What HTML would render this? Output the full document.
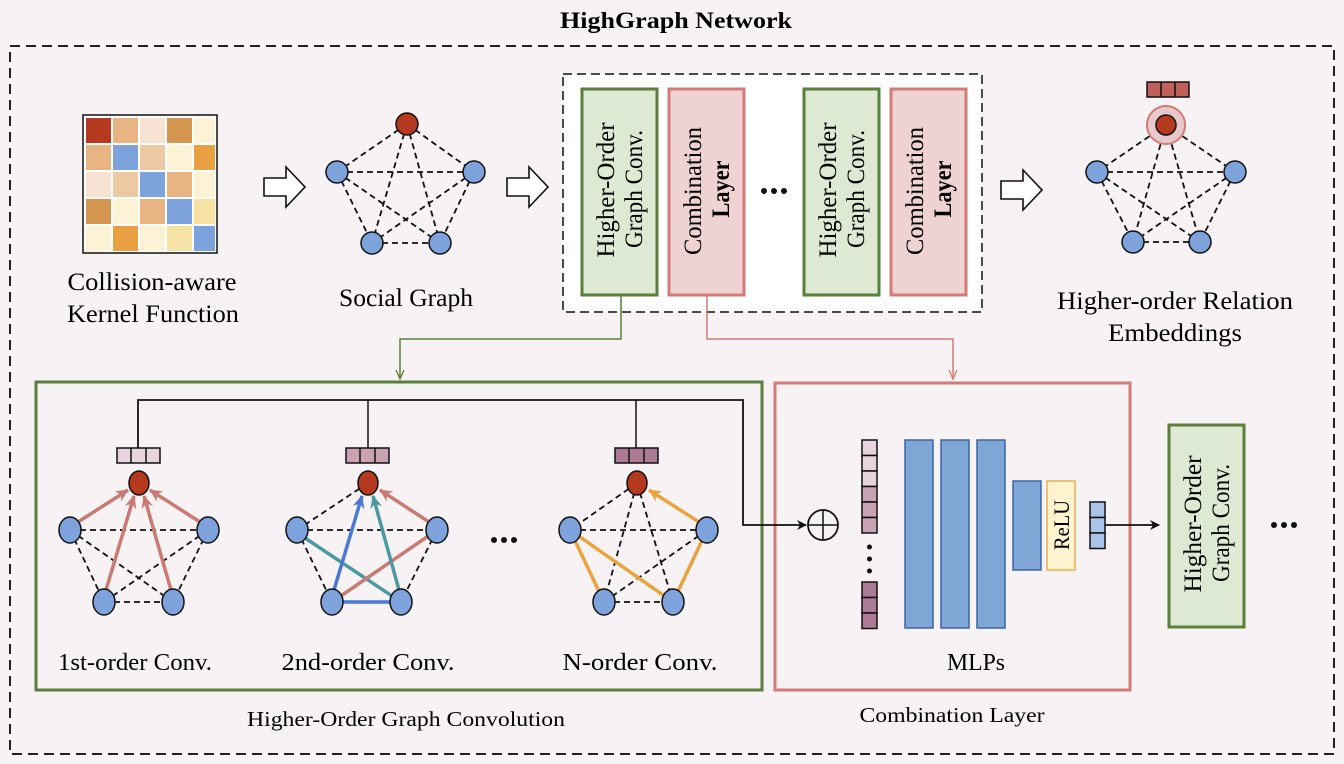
<!DOCTYPE html>
<html><head><meta charset="utf-8"><style>
html,body{margin:0;padding:0;background:#f7f2f4;}
svg{display:block;font-family:"Liberation Serif",serif;}
</style></head><body>
<svg width="1344" height="764" viewBox="0 0 1344 764" xmlns="http://www.w3.org/2000/svg">
<defs>
<marker id="ab" markerWidth="10" markerHeight="10" refX="9" refY="5" orient="auto" markerUnits="userSpaceOnUse"><path d="M0,0 L10,5 L0,10 L3,5 z" fill="#111"/></marker>
<marker id="ag" markerWidth="10" markerHeight="10" refX="9" refY="5" orient="auto" markerUnits="userSpaceOnUse"><path d="M0,1 L9,5 L0,9" fill="none" stroke="#5a7f3a" stroke-width="1.3"/></marker>
<marker id="ar" markerWidth="10" markerHeight="10" refX="9" refY="5" orient="auto" markerUnits="userSpaceOnUse"><path d="M0,1 L9,5 L0,9" fill="none" stroke="#d47b78" stroke-width="1.3"/></marker>
<marker id="mr" markerWidth="14" markerHeight="14" refX="12" refY="7" orient="auto" markerUnits="userSpaceOnUse"><path d="M0,1 L13,7 L0,13 L4,7 z" fill="#c97a72"/></marker>
<marker id="mb" markerWidth="14" markerHeight="14" refX="12" refY="7" orient="auto" markerUnits="userSpaceOnUse"><path d="M0,1 L13,7 L0,13 L4,7 z" fill="#4a78d8"/></marker>
<marker id="mt" markerWidth="14" markerHeight="14" refX="12" refY="7" orient="auto" markerUnits="userSpaceOnUse"><path d="M0,1 L13,7 L0,13 L4,7 z" fill="#4a9aa0"/></marker>
<marker id="mo" markerWidth="14" markerHeight="14" refX="12" refY="7" orient="auto" markerUnits="userSpaceOnUse"><path d="M0,1 L13,7 L0,13 L4,7 z" fill="#eba43d"/></marker>
</defs>
<rect width="1344" height="764" fill="#f7f2f4"/>
<text x="676" y="28" text-anchor="middle" font-size="23" font-weight="bold" textLength="232" lengthAdjust="spacingAndGlyphs">HighGraph Network</text>
<rect x="10" y="46" width="1324" height="708" fill="none" stroke="#222" stroke-width="2" stroke-dasharray="10,6"/>

<!-- kernel matrix -->
<rect x="83" y="115" width="134" height="138" fill="#fff" stroke="#111" stroke-width="1.5"/>
<g>
<rect x="86" y="118" width="25" height="25" fill="#b5391f"/><rect x="113" y="118" width="25" height="25" fill="#e8b482"/><rect x="140" y="118" width="25" height="25" fill="#f6e3d2"/><rect x="167" y="118" width="25" height="25" fill="#d49550"/><rect x="194" y="118" width="21" height="25" fill="#fcf2d6"/>
<rect x="86" y="145" width="25" height="25" fill="#e8b482"/><rect x="113" y="145" width="25" height="25" fill="#7ea3dc"/><rect x="140" y="145" width="25" height="25" fill="#ecc9a2"/><rect x="167" y="145" width="25" height="25" fill="#fcf2d6"/><rect x="194" y="145" width="21" height="25" fill="#e9a043"/>
<rect x="86" y="172" width="25" height="25" fill="#f6e3d2"/><rect x="113" y="172" width="25" height="25" fill="#ecc9a2"/><rect x="140" y="172" width="25" height="25" fill="#7ea3dc"/><rect x="167" y="172" width="25" height="25" fill="#e8b482"/><rect x="194" y="172" width="21" height="25" fill="#fcf2d6"/>
<rect x="86" y="199" width="25" height="25" fill="#d49550"/><rect x="113" y="199" width="25" height="25" fill="#fcf2d6"/><rect x="140" y="199" width="25" height="25" fill="#e8b482"/><rect x="167" y="199" width="25" height="25" fill="#7ea3dc"/><rect x="194" y="199" width="21" height="25" fill="#f7e2a5"/>
<rect x="86" y="226" width="25" height="25" fill="#fcf2d6"/><rect x="113" y="226" width="25" height="25" fill="#e9a043"/><rect x="140" y="226" width="25" height="25" fill="#fcf2d6"/><rect x="167" y="226" width="25" height="25" fill="#f7e2a5"/><rect x="194" y="226" width="21" height="25" fill="#7ea3dc"/>
</g>
<text x="152" y="290" text-anchor="middle" font-size="25" textLength="169" lengthAdjust="spacingAndGlyphs">Collision-aware</text>
<text x="153" y="322" text-anchor="middle" font-size="25" textLength="172" lengthAdjust="spacingAndGlyphs">Kernel Function</text>

<!-- hollow arrows -->
<g fill="#fff" stroke="#111" stroke-width="1.6">
<path d="M264,178 h22 v-11 l19,20 l-19,20 v-11 h-22 z"/>
<path d="M507,178 h22 v-11 l19,20 l-19,20 v-11 h-22 z"/>
<path d="M1001,181 h22 v-11 l19,20 l-19,20 v-11 h-22 z"/>
</g>

<!-- social graph -->
<g stroke="#111" stroke-width="1.8" stroke-dasharray="6,4" fill="none">
<path d="M407,124 L337,172 M407,124 L474,172 M407,124 L372,243 M407,124 L440,243 M337,172 L474,172 M337,172 L372,243 M337,172 L440,243 M474,172 L372,243 M474,172 L440,243 M372,243 L440,243"/>
</g>
<g stroke="#111" stroke-width="1.5">
<circle cx="407" cy="124" r="11" fill="#b5391f"/>
<circle cx="337" cy="172" r="11" fill="#7ea3dc"/><circle cx="474" cy="172" r="11" fill="#7ea3dc"/>
<circle cx="372" cy="243" r="11" fill="#7ea3dc"/><circle cx="440" cy="243" r="11" fill="#7ea3dc"/>
</g>
<text x="406" y="306" text-anchor="middle" font-size="25" textLength="134" lengthAdjust="spacingAndGlyphs">Social Graph</text>

<!-- stacked layers box -->
<rect x="563" y="74" width="419" height="238" fill="#fff" stroke="#111" stroke-width="1.5" stroke-dasharray="9,5"/>
<rect x="582" y="89" width="75" height="206" fill="#dde9d3" stroke="#5a7f3a" stroke-width="3"/>
<rect x="669" y="89" width="75" height="206" fill="#efd3d3" stroke="#d47b78" stroke-width="3"/>
<rect x="804" y="89" width="75" height="206" fill="#dde9d3" stroke="#5a7f3a" stroke-width="3"/>
<rect x="891" y="89" width="75" height="206" fill="#efd3d3" stroke="#d47b78" stroke-width="3"/>
<g font-size="25" text-anchor="middle">
<text transform="translate(614,190) rotate(-90)" textLength="135" lengthAdjust="spacingAndGlyphs">Higher-Order</text>
<text transform="translate(642,189) rotate(-90)" textLength="118" lengthAdjust="spacingAndGlyphs">Graph Conv.</text>
<text transform="translate(701,191) rotate(-90)" textLength="128" lengthAdjust="spacingAndGlyphs">Combination</text>
<text transform="translate(729,189) rotate(-90)" font-weight="bold" textLength="57" lengthAdjust="spacingAndGlyphs">Layer</text>
<text transform="translate(836,190) rotate(-90)" textLength="135" lengthAdjust="spacingAndGlyphs">Higher-Order</text>
<text transform="translate(864,189) rotate(-90)" textLength="118" lengthAdjust="spacingAndGlyphs">Graph Conv.</text>
<text transform="translate(923,191) rotate(-90)" textLength="128" lengthAdjust="spacingAndGlyphs">Combination</text>
<text transform="translate(951,189) rotate(-90)" font-weight="bold" textLength="57" lengthAdjust="spacingAndGlyphs">Layer</text>
</g>
<g fill="#111"><circle cx="764" cy="191" r="3"/><circle cx="774" cy="191" r="3"/><circle cx="784" cy="191" r="3"/></g>

<!-- embedding graph -->
<rect x="1147" y="82" width="42" height="15" fill="#c0605a" stroke="#111" stroke-width="1.5"/>
<line x1="1161" y1="82" x2="1161" y2="97" stroke="#111" stroke-width="1.5"/><line x1="1175" y1="82" x2="1175" y2="97" stroke="#111" stroke-width="1.5"/>
<g stroke="#111" stroke-width="1.8" stroke-dasharray="6,4" fill="none">
<path d="M1166,125 L1097,172 M1166,125 L1235,172 M1166,125 L1133,242 M1166,125 L1200,242 M1097,172 L1235,172 M1097,172 L1133,242 M1097,172 L1200,242 M1235,172 L1133,242 M1235,172 L1200,242 M1133,242 L1200,242"/>
</g>
<circle cx="1166" cy="125" r="19" fill="#e7c9cc" stroke="#d47b78" stroke-width="2"/>
<g stroke="#111" stroke-width="1.5">
<circle cx="1166" cy="125" r="10" fill="#b5391f"/>
<circle cx="1097" cy="172" r="11" fill="#7ea3dc"/><circle cx="1235" cy="172" r="11" fill="#7ea3dc"/>
<circle cx="1133" cy="242" r="11" fill="#7ea3dc"/><circle cx="1200" cy="242" r="11" fill="#7ea3dc"/>
</g>
<text x="1175" y="309" text-anchor="middle" font-size="25" textLength="236" lengthAdjust="spacingAndGlyphs">Higher-order Relation</text>
<text x="1175" y="341" text-anchor="middle" font-size="25" textLength="134" lengthAdjust="spacingAndGlyphs">Embeddings</text>

<!-- connectors -->
<path d="M621,295 V339 H400 V379" fill="none" stroke="#5a7f3a" stroke-width="1.5" marker-end="url(#ag)"/>
<path d="M707,295 V339 H953 V379" fill="none" stroke="#d47b78" stroke-width="1.5" marker-end="url(#ar)"/>

<!-- green and red boxes -->
<rect x="36" y="382" width="726" height="308" fill="none" stroke="#5a7f3a" stroke-width="3"/>
<rect x="775" y="383" width="355" height="307" fill="none" stroke="#d47b78" stroke-width="3"/>

<!-- bus -->
<path d="M138,448 V400 H743 V525 H806" fill="none" stroke="#111" stroke-width="1.8" marker-end="url(#ab)"/>
<line x1="368" y1="400" x2="368" y2="448" stroke="#111" stroke-width="1.5"/>
<line x1="636" y1="400" x2="636" y2="448" stroke="#111" stroke-width="1.5"/>
<g stroke="#111" stroke-width="1.5">
<rect x="117" y="448" width="43" height="15" fill="#e6d5dc"/><line x1="131" y1="448" x2="131" y2="463"/><line x1="146" y1="448" x2="146" y2="463"/>
<rect x="346" y="448" width="43" height="15" fill="#c9a3b3"/><line x1="360" y1="448" x2="360" y2="463"/><line x1="375" y1="448" x2="375" y2="463"/>
<rect x="615" y="448" width="43" height="15" fill="#ad7a95"/><line x1="629" y1="448" x2="629" y2="463"/><line x1="644" y1="448" x2="644" y2="463"/>
</g>

<!-- graph 1 -->
<g stroke="#111" stroke-width="1.8" stroke-dasharray="6,4" fill="none">
<path d="M70,530 L208,530 M70,530 L104,602 M70,530 L173,602 M208,530 L104,602 M208,530 L173,602 M104,602 L173,602"/>
</g>
<g stroke="#c97a72" stroke-width="3.5" fill="none">
<line x1="78" y1="522" x2="128" y2="490" marker-end="url(#mr)"/>
<line x1="200" y1="522" x2="150" y2="490" marker-end="url(#mr)"/>
<line x1="106" y1="590" x2="134" y2="496" marker-end="url(#mr)"/>
<line x1="171" y1="590" x2="144" y2="496" marker-end="url(#mr)"/>
</g>
<g stroke="#111" stroke-width="1.5">
<ellipse cx="139" cy="483" rx="10" ry="12" fill="#b5391f"/>
<ellipse cx="70" cy="530" rx="11" ry="13" fill="#7ea3dc"/><ellipse cx="208" cy="530" rx="11" ry="13" fill="#7ea3dc"/>
<ellipse cx="104" cy="602" rx="11" ry="13" fill="#7ea3dc"/><ellipse cx="173" cy="602" rx="11" ry="13" fill="#7ea3dc"/>
</g>

<!-- graph 2 -->
<g stroke="#111" stroke-width="1.8" stroke-dasharray="6,4" fill="none">
<path d="M368,483 L297,530 M297,530 L437,530 M297,530 L332,602 M437,530 L401,602"/>
</g>
<g stroke-width="3.5" fill="none">
<line x1="299" y1="534" x2="401" y2="602" stroke="#4a9aa0"/>
<line x1="332" y1="602" x2="437" y2="530" stroke="#c97a72"/>
<line x1="332" y1="602" x2="401" y2="602" stroke="#4a78d8"/>
<line x1="429" y1="522" x2="380" y2="490" stroke="#c97a72" marker-end="url(#mr)"/>
<line x1="334" y1="590" x2="362" y2="496" stroke="#4a78d8" marker-end="url(#mb)"/>
<line x1="399" y1="590" x2="373" y2="496" stroke="#4a9aa0" marker-end="url(#mt)"/>
</g>
<g stroke="#111" stroke-width="1.5">
<ellipse cx="368" cy="483" rx="10" ry="12" fill="#b5391f"/>
<ellipse cx="297" cy="530" rx="11" ry="13" fill="#7ea3dc"/><ellipse cx="437" cy="530" rx="11" ry="13" fill="#7ea3dc"/>
<ellipse cx="332" cy="602" rx="11" ry="13" fill="#7ea3dc"/><ellipse cx="401" cy="602" rx="11" ry="13" fill="#7ea3dc"/>
</g>

<g fill="#111"><circle cx="494" cy="540" r="3"/><circle cx="504" cy="540" r="3"/><circle cx="514" cy="540" r="3"/></g>

<!-- graph 3 -->
<g stroke="#111" stroke-width="1.8" stroke-dasharray="6,4" fill="none">
<path d="M637,483 L570,530 M570,530 L707,530 M707,530 L604,602 M637,483 L604,602 M637,483 L673,602 M604,602 L673,602"/>
</g>
<g stroke="#eba43d" stroke-width="3.5" fill="none">
<line x1="570" y1="530" x2="604" y2="602"/>
<line x1="570" y1="530" x2="673" y2="602"/>
<line x1="707" y1="530" x2="673" y2="602"/>
<line x1="699" y1="522" x2="649" y2="490" marker-end="url(#mo)"/>
</g>
<g stroke="#111" stroke-width="1.5">
<ellipse cx="637" cy="483" rx="10" ry="12" fill="#b5391f"/>
<ellipse cx="570" cy="530" rx="11" ry="13" fill="#7ea3dc"/><ellipse cx="707" cy="530" rx="11" ry="13" fill="#7ea3dc"/>
<ellipse cx="604" cy="602" rx="11" ry="13" fill="#7ea3dc"/><ellipse cx="673" cy="602" rx="11" ry="13" fill="#7ea3dc"/>
</g>

<g font-size="24" text-anchor="middle">
<text x="135" y="670" textLength="154" lengthAdjust="spacingAndGlyphs">1st-order Conv.</text>
<text x="368" y="670" textLength="173" lengthAdjust="spacingAndGlyphs">2nd-order Conv.</text>
<text x="640" y="670" textLength="155" lengthAdjust="spacingAndGlyphs">N-order Conv.</text>
</g>
<text x="406" y="726" text-anchor="middle" font-size="21" textLength="318" lengthAdjust="spacingAndGlyphs">Higher-Order Graph Convolution</text>
<text x="952" y="722" text-anchor="middle" font-size="21" textLength="185" lengthAdjust="spacingAndGlyphs">Combination Layer</text>

<!-- combination internals -->
<circle cx="823" cy="525" r="15" fill="none" stroke="#111" stroke-width="1.8"/>
<line x1="808" y1="525" x2="838" y2="525" stroke="#111" stroke-width="1.5"/>
<line x1="823" y1="510" x2="823" y2="540" stroke="#111" stroke-width="1.5"/>
<g stroke="#111" stroke-width="1.5">
<rect x="862" y="440" width="15" height="15.5" fill="#e6d5dc"/><rect x="862" y="455.5" width="15" height="15.5" fill="#e6d5dc"/><rect x="862" y="471" width="15" height="15.5" fill="#e6d5dc"/>
<rect x="862" y="486.5" width="15" height="15.5" fill="#c9a3b3"/><rect x="862" y="502" width="15" height="15.5" fill="#c9a3b3"/><rect x="862" y="517.5" width="15" height="15.5" fill="#c9a3b3"/>
<rect x="862" y="582" width="15" height="15.5" fill="#ad7a95"/><rect x="862" y="597.5" width="15" height="15.5" fill="#ad7a95"/><rect x="862" y="613" width="15" height="15.5" fill="#ad7a95"/>
</g>
<g fill="#111"><circle cx="869.5" cy="547" r="2.5"/><circle cx="869.5" cy="559" r="2.5"/><circle cx="869.5" cy="571" r="2.5"/></g>
<g fill="#80a6d6" stroke="#3a65a8" stroke-width="1.5">
<rect x="905" y="440" width="28" height="188"/>
<rect x="941" y="440" width="28" height="188"/>
<rect x="977" y="440" width="28" height="188"/>
<rect x="1013" y="481" width="28" height="89"/>
</g>
<rect x="1047" y="481" width="28" height="89" fill="#fdf3cf" stroke="#ebb04c" stroke-width="1.5"/>
<text transform="translate(1069,525) rotate(-90)" text-anchor="middle" font-size="22" textLength="50" lengthAdjust="spacingAndGlyphs">ReLU</text>
<g stroke="#111" stroke-width="1.5" fill="#a9c4e8">
<rect x="1090" y="502" width="15" height="15.5"/><rect x="1090" y="517.5" width="15" height="15.5"/><rect x="1090" y="533" width="15" height="15.5"/>
</g>
<line x1="1105" y1="525" x2="1159" y2="525" stroke="#111" stroke-width="1.8" marker-end="url(#ab)"/>
<text x="976" y="670" text-anchor="middle" font-size="24" textLength="58" lengthAdjust="spacingAndGlyphs">MLPs</text>

<rect x="1169" y="425" width="75" height="202" fill="#dde9d3" stroke="#5a7f3a" stroke-width="3"/>
<text transform="translate(1201,524) rotate(-90)" text-anchor="middle" font-size="25" textLength="137" lengthAdjust="spacingAndGlyphs">Higher-Order</text>
<text transform="translate(1229,523) rotate(-90)" text-anchor="middle" font-size="25" textLength="118" lengthAdjust="spacingAndGlyphs">Graph Conv.</text>
<g fill="#111"><circle cx="1274" cy="525" r="3"/><circle cx="1284" cy="525" r="3"/><circle cx="1294" cy="525" r="3"/></g>
</svg>
</body></html>
